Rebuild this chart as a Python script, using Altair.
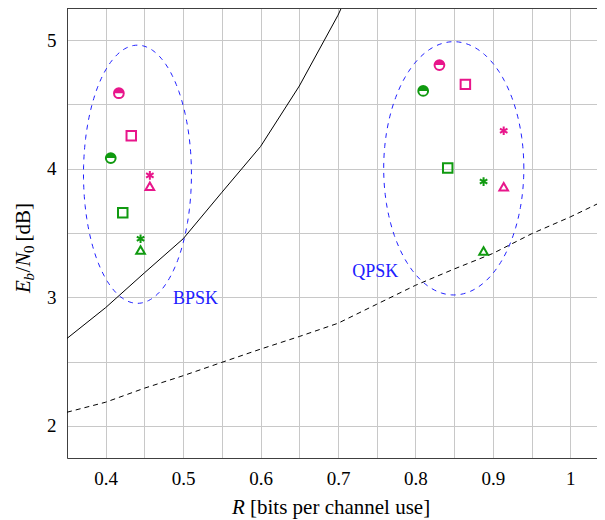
import altair as alt
import pandas as pd
import numpy as np

# ---------------- data ----------------
rate_bpsk = [0.35, 0.40, 0.45, 0.50, 0.55, 0.60, 0.65, 0.70, 0.75]
snr_bpsk = [2.68, 2.92, 3.19, 3.455, 3.816, 4.173, 4.643, 5.194, 5.85]

rate_qpsk = [0.35, 0.40, 0.45, 0.50, 0.55, 0.60, 0.65, 0.70, 0.75, 0.80,
             0.85, 0.90, 0.95, 1.00, 1.05]
snr_qpsk = [2.106, 2.184, 2.293, 2.39, 2.494, 2.597, 2.695, 2.798, 2.946,
            3.093, 3.22, 3.341, 3.494, 3.625, 3.77]

# markers: (rate, snr, marker, colour group)
pt_rate = [0.417, 0.4065, 0.433, 0.422, 0.457, 0.457, 0.445, 0.445,
           0.831, 0.810, 0.8645, 0.8417, 0.914, 0.914, 0.888, 0.888]
pt_snr = [4.587, 4.083, 4.256, 3.657, 3.948, 3.863, 3.455, 3.367,
          4.806, 4.605, 4.656, 4.005, 4.295, 3.86, 3.90, 3.36]
pt_marker = ["half", "half", "square", "square", "star", "tri", "star", "tri",
             "half", "half", "square", "square", "star", "tri", "star", "tri"]
pt_group = ["m", "g", "m", "g", "m", "m", "g", "g",
            "m", "g", "m", "g", "m", "m", "g", "g"]

ell_name = ["BPSK", "QPSK"]
ell_cx = [0.441, 0.8495]
ell_cy = [3.957, 4.003]
ell_rx = [0.0697, 0.0905]
ell_ry = [1.004, 0.985]

lab_text = ["BPSK", "QPSK"]
lab_rate = [0.516, 0.748]
lab_snr = [2.99, 3.2]

x_ticks = [0.35, 0.40, 0.45, 0.50, 0.55, 0.60, 0.65, 0.70, 0.75, 0.80,
           0.85, 0.90, 0.95, 1.00]
y_ticks = [2.0, 2.5, 3.0, 3.5, 4.0, 4.5, 5.0]

# ---------------- tables ----------------
df_b = pd.DataFrame({"R": rate_bpsk, "S": snr_bpsk})
df_q = pd.DataFrame({"R": rate_qpsk, "S": snr_qpsk})
df_p = pd.DataFrame({"R": pt_rate, "S": pt_snr, "m": pt_marker, "g": pt_group})

rows = []
t = np.linspace(0, 2 * np.pi, 181)
for n, cx, cy, rx, ry in zip(ell_name, ell_cx, ell_cy, ell_rx, ell_ry):
    for i, a in enumerate(t):
        rows.append({"e": n, "o": i, "R": cx + rx * np.cos(a), "S": cy + ry * np.sin(a)})
df_e = pd.DataFrame(rows)
df_l = pd.DataFrame({"t": lab_text, "R": lab_rate, "S": lab_snr})

FONT = "Liberation Serif"
MAG = "#e8168b"
GRN = "#109a10"
BLUE = "#2020ff"
FRAME = "#404040"
W, H = 530, 450
LBL = 19
TTL = 21

xs = alt.Scale(domain=[0.35, 0.35 + W / 774.3], nice=False, zero=False)
ys = alt.Scale(domain=[1.75, 5.25], nice=False, zero=False)

X = alt.X("R:Q", scale=xs, axis=alt.Axis(
    values=x_ticks, title=None, grid=True, ticks=False, domain=True, domainColor=FRAME,
    labelExpr="abs(round(datum.value*10) - datum.value*10) < 0.01 ? format(datum.value, '~g') : ''",
    labelPadding=11, labelFontSize=LBL, labelFont=FONT, labelColor="black",
    gridColor="#c8c8c8", labelFlush=False))
Y = alt.Y("S:Q", scale=ys, axis=alt.Axis(
    values=y_ticks, title=None, grid=True, ticks=False, domain=True, domainColor=FRAME,
    labelExpr="abs(round(datum.value) - datum.value) < 0.01 ? format(datum.value, '~g') : ''",
    labelPadding=11, labelFontSize=LBL, labelFont=FONT, labelColor="black",
    gridColor="#c8c8c8", labelFlush=False))
Xn = alt.X("R:Q", scale=xs)
Yn = alt.Y("S:Q", scale=ys)
col = alt.Color("g:N", scale=alt.Scale(domain=["m", "g"], range=[MAG, GRN]), legend=None)

base = alt.Chart(df_b).mark_line(color="black", strokeWidth=1, clip=True).encode(x=X, y=Y)
qline = alt.Chart(df_q).mark_line(color="black", strokeWidth=1, strokeDash=[5, 4], clip=True).encode(x=Xn, y=Yn)
ell = alt.Chart(df_e).mark_line(color=BLUE, strokeWidth=1, strokeDash=[5, 5]).encode(
    x=Xn, y=Yn, detail="e:N", order="o:Q")

half_df = df_p[df_p.m == "half"]
half_ring = alt.Chart(half_df).mark_point(shape="circle", filled=False, fill="white", fillOpacity=1,
                                          strokeWidth=2, size=95, opacity=1).encode(
    x=Xn, y=Yn, stroke=alt.Stroke("g:N", scale=alt.Scale(domain=["m", "g"], range=[MAG, GRN]), legend=None))
half_fill = alt.Chart(half_df).mark_point(shape="M -1 0 A 1 1 0 0 1 1 0 Z", filled=True,
                                          size=95, opacity=1).encode(x=Xn, y=Yn, color=col)
sq = alt.Chart(df_p[df_p.m == "square"]).mark_point(shape="square", filled=False, strokeWidth=2,
                                                     size=90, opacity=1).encode(x=Xn, y=Yn, color=col)
tri = alt.Chart(df_p[df_p.m == "tri"]).mark_point(shape="triangle-up", filled=False, strokeWidth=2,
                                                   size=75, opacity=1).encode(x=Xn, y=Yn, color=col)
star = alt.Chart(df_p[df_p.m == "star"]).mark_point(
    shape="M 0 -1 L 0 1 M -0.866 -0.5 L 0.866 0.5 M -0.866 0.5 L 0.866 -0.5",
    filled=False, strokeWidth=2, size=75, opacity=1).encode(x=Xn, y=Yn, color=col)

labels = alt.Chart(df_l).mark_text(font=FONT, fontSize=18, color=BLUE).encode(x=Xn, y=Yn, text="t:N")

# top frame line
top = alt.Chart(pd.DataFrame({"k": [0]})).mark_rule(color=FRAME, strokeWidth=1).encode(
    y=alt.value(0.5), x=alt.value(0), x2=alt.value(W))


# axis titles built from pieces (italic math letters)
def txt(s, x, y, size=TTL, style="normal", angle=0):
    d = pd.DataFrame({"s": [s]})
    return alt.Chart(d).mark_text(font=FONT, fontSize=size, fontStyle=style, align="left",
                                  baseline="alphabetic", angle=angle, color="black").encode(
        text="s:N", x=alt.value(x), y=alt.value(y))


xt = [txt("R", 165, 506, style="italic"), txt("[bits per channel use]", 183, 506)]
yt = [txt("E", -37.5, 285, style="italic", angle=270),
      txt("b", -33, 272.5, size=15, style="italic", angle=270),
      txt("/", -37.5, 264.5, angle=270),
      txt("N", -37.5, 258.5, style="italic", angle=270),
      txt("0", -33, 245, size=15, angle=270),
      txt("[dB]", -37.5, 233.5, angle=270)]

chart = alt.layer(base, qline, ell, half_ring, half_fill, sq, tri, star, labels, top, *xt, *yt).properties(
    width=W, height=H,
    autosize=alt.AutoSizeParams(type="none"),
    padding={"left": 59, "top": 0, "right": 0, "bottom": 63},
).configure_view(stroke=None).configure(background="white")

chart.save("out.html", embed_options={"renderer": "svg", "actions": False})
